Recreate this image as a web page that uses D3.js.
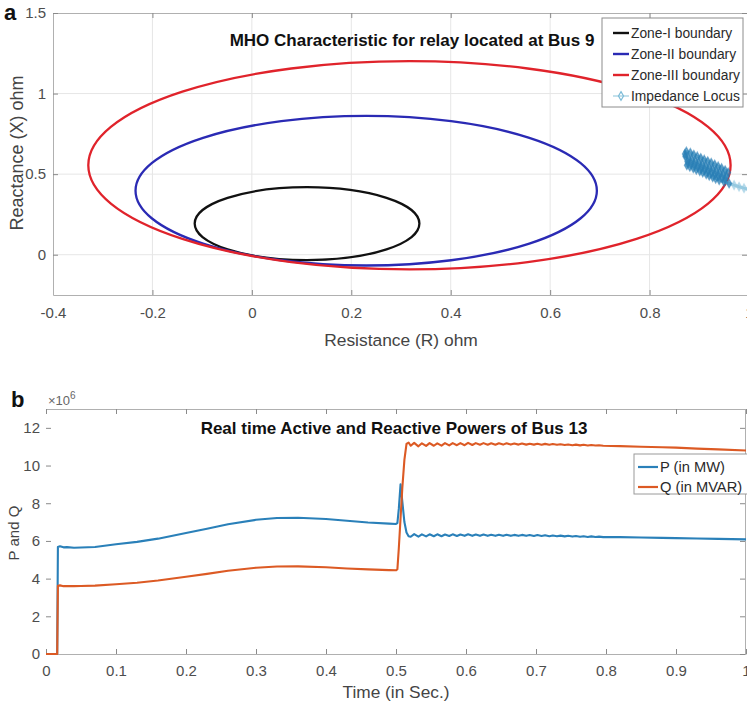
<!DOCTYPE html>
<html>
<head>
<meta charset="utf-8">
<script src="https://cdn.jsdelivr.net/npm/d3@7"></script>
<style>
    body { margin: 0; background: #fff; }
    svg { display: block; font-family: "Liberation Sans", Arial, sans-serif; }
</style>
</head>
<body>
<div id="chart"></div>
<script>
// ---------- panel a : MHO zones + impedance locus ----------
const zoneNames = ["Zone-I boundary", "Zone-II boundary", "Zone-III boundary"];
const zoneCenterR = [0.111, 0.230, 0.317];
const zoneCenterX = [0.193, 0.397, 0.555];
const zoneRadius = [0.226, 0.464, 0.646];
const zoneColors = ["#111111", "#2a2ab4", "#e0232b"];

// locus: tail on the right, then the dense band near R = 0.87..0.96
const locusR = [1.02, 1.01, 1.0, 0.99, 0.98, 0.97, 0.96, 0.95, 0.94,
    0.933, 0.927, 0.920, 0.914, 0.907, 0.901, 0.894, 0.888, 0.881, 0.875,
    0.876, 0.883, 0.890, 0.897, 0.904, 0.911, 0.918, 0.925, 0.932, 0.939, 0.946, 0.952,
    0.955, 0.948, 0.941, 0.934, 0.927, 0.920, 0.913, 0.906, 0.899, 0.892, 0.885, 0.878,
    0.872, 0.871, 0.874,
    0.882, 0.889, 0.896, 0.903, 0.910, 0.917, 0.924, 0.931, 0.938, 0.945, 0.952, 0.958];
const locusX = [0.385, 0.395, 0.405, 0.413, 0.422, 0.432, 0.442, 0.452, 0.463,
    0.472, 0.481, 0.491, 0.500, 0.510, 0.519, 0.528, 0.537, 0.546, 0.555,
    0.578, 0.568, 0.558, 0.548, 0.538, 0.528, 0.518, 0.507, 0.497, 0.487, 0.477, 0.468,
    0.487, 0.498, 0.509, 0.520, 0.530, 0.540, 0.550, 0.560, 0.570, 0.580, 0.590, 0.600,
    0.610, 0.625, 0.640,
    0.632, 0.620, 0.610, 0.600, 0.590, 0.580, 0.570, 0.559, 0.548, 0.537, 0.524, 0.510];

const rTicks = [-0.4, -0.2, 0, 0.2, 0.4, 0.6, 0.8, 1];
const rTickLabels = ["-0.4", "-0.2", "0", "0.2", "0.4", "0.6", "0.8", "1"];
const xTicks = [0, 0.5, 1, 1.5];
const xTickLabels = ["0", "0.5", "1", "1.5"];

// ---------- panel b : P and Q of bus 13 ----------
const timeSec = [0, 0.016, 0.017, 0.02, 0.025, 0.03, 0.04, 0.05, 0.07, 0.1,
    0.13, 0.16, 0.2, 0.23, 0.26, 0.3, 0.33, 0.36, 0.4, 0.43,
    0.46, 0.49, 0.5, 0.502, 0.504, 0.5065, 0.509, 0.512, 0.515, 0.518,
    0.521, 0.526, 0.532, 0.537, 0.543, 0.548, 0.554, 0.559, 0.565, 0.570,
    0.576, 0.581, 0.587, 0.592, 0.598, 0.603, 0.609, 0.614, 0.620, 0.625,
    0.631, 0.636, 0.642, 0.647, 0.653, 0.658, 0.664, 0.669, 0.675, 0.680,
    0.686, 0.691, 0.697, 0.702, 0.708, 0.713, 0.719, 0.724, 0.730, 0.735,
    0.741, 0.746, 0.752, 0.757, 0.763, 0.768, 0.774, 0.779, 0.785, 0.790,
    0.796, 0.82, 0.85, 0.88, 0.9, 0.93, 0.96, 1.0];
const activeP = [0, 0, 5.68, 5.72, 5.66, 5.67, 5.64, 5.65, 5.68, 5.82,
    5.95, 6.12, 6.42, 6.65, 6.88, 7.12, 7.22, 7.23, 7.16, 7.07,
    6.98, 6.92, 6.9, 6.95, 7.7, 9.0, 8.1, 7.0, 6.45, 6.25,
    6.22, 6.36, 6.23, 6.35, 6.24, 6.35, 6.25, 6.35, 6.25, 6.34,
    6.26, 6.35, 6.26, 6.34, 6.27, 6.35, 6.27, 6.34, 6.27, 6.34,
    6.27, 6.33, 6.27, 6.33, 6.27, 6.33, 6.27, 6.32, 6.27, 6.32,
    6.27, 6.31, 6.26, 6.31, 6.26, 6.30, 6.25, 6.29, 6.25, 6.28,
    6.24, 6.27, 6.23, 6.26, 6.22, 6.25, 6.21, 6.24, 6.21, 6.23,
    6.20, 6.2, 6.18, 6.16, 6.15, 6.13, 6.11, 6.08];
const reactiveQ = [0, 0, 3.62, 3.64, 3.6, 3.61, 3.6, 3.61, 3.63, 3.7,
    3.78, 3.9, 4.1, 4.25, 4.42, 4.58, 4.64, 4.65, 4.6, 4.54,
    4.49, 4.45, 4.44, 4.5, 5.6, 7.2, 8.8, 10.3, 11.15, 11.22,
    11.05, 11.2, 11.02, 11.18, 11.04, 11.19, 11.05, 11.18, 11.06, 11.19,
    11.07, 11.19, 11.08, 11.19, 11.08, 11.2, 11.09, 11.19, 11.1, 11.19,
    11.1, 11.18, 11.1, 11.18, 11.11, 11.18, 11.11, 11.17, 11.11, 11.17,
    11.11, 11.16, 11.11, 11.16, 11.1, 11.15, 11.1, 11.14, 11.1, 11.13,
    11.09, 11.12, 11.08, 11.11, 11.07, 11.1, 11.06, 11.09, 11.06, 11.08,
    11.05, 11.03, 11.0, 10.97, 10.95, 10.9, 10.86, 10.8];
const seriesNames = ["P (in MW)", "Q (in MVAR)"];
const seriesColors = ["#2a80b9", "#dc5a24"];

const tTicks = [0, 0.1, 0.2, 0.3, 0.4, 0.5, 0.6, 0.7, 0.8, 0.9, 1];
const tTickLabels = ["0", "0.1", "0.2", "0.3", "0.4", "0.5", "0.6", "0.7", "0.8", "0.9", "1"];
const pqTicks = [0, 2, 4, 6, 8, 10, 12];
const pqTickLabels = ["0", "2", "4", "6", "8", "10", "12"];

const W = 747, H = 704;
const tickColor = "#4d4d4d";

const svg = d3.select("#chart").append("svg")
    .attr("width", W)
    .attr("height", H);
svg.append("rect").attr("width", W).attr("height", H).attr("fill", "#fff");

// ================= panel a =================
const boxA = { left: 53, right: 749, top: 13, bottom: 295 };
const xA = d3.scaleLinear().domain([-0.4, 1.0]).range([boxA.left, boxA.right]);
const yA = d3.scaleLinear().domain([-0.25, 1.5]).range([boxA.bottom, boxA.top]);
const gA = svg.append("g");

// grid
gA.append("g").selectAll("line").data(rTicks.slice(1, -1)).join("line")
    .attr("x1", d => xA(d)).attr("x2", d => xA(d))
    .attr("y1", boxA.top).attr("y2", boxA.bottom)
    .attr("stroke", "#e6e6e6").attr("stroke-width", 1);
gA.append("g").selectAll("line").data(xTicks.slice(0, -1)).join("line")
    .attr("x1", boxA.left).attr("x2", boxA.right)
    .attr("y1", d => yA(d)).attr("y2", d => yA(d))
    .attr("stroke", "#e6e6e6").attr("stroke-width", 1);

function styleAxis(g, hideText) {
    g.select(".domain").attr("stroke", "#b0b0b0");
    g.selectAll(".tick line").attr("stroke", "#8a8a8a");
    g.selectAll(".tick text")
        .attr("fill", tickColor)
        .style("font-size", "15px")
        .style("font-family", "'Liberation Sans', Arial, sans-serif");
    if (hideText) g.selectAll(".tick text").remove();
}

gA.append("g").attr("transform", `translate(0,${boxA.bottom})`)
    .call(d3.axisBottom(xA).tickValues(rTicks)
        .tickFormat((d, i) => rTickLabels[i]).tickSizeInner(-5).tickSizeOuter(0).tickPadding(12))
    .call(g => styleAxis(g, false));
gA.append("g").attr("transform", `translate(0,${boxA.top})`)
    .call(d3.axisTop(xA).tickValues(rTicks).tickSizeInner(-5).tickSizeOuter(0))
    .call(g => styleAxis(g, true));
gA.append("g").attr("transform", `translate(${boxA.left},0)`)
    .call(d3.axisLeft(yA).tickValues(xTicks)
        .tickFormat((d, i) => xTickLabels[i]).tickSizeInner(-5).tickSizeOuter(0).tickPadding(7))
    .call(g => styleAxis(g, false));
gA.append("g").attr("transform", `translate(${boxA.right - 2},0)`)
    .call(d3.axisRight(yA).tickValues(xTicks).tickSizeInner(-5).tickSizeOuter(0))
    .call(g => styleAxis(g, true));

// zone circles
const zones = zoneNames.map((name, i) => ({
    name, cR: zoneCenterR[i], cX: zoneCenterX[i], r: zoneRadius[i], color: zoneColors[i]
}));
gA.append("g").selectAll("ellipse").data(zones).join("ellipse")
    .attr("cx", d => xA(d.cR))
    .attr("cy", d => yA(d.cX))
    .attr("rx", d => xA(d.cR + d.r) - xA(d.cR))
    .attr("ry", d => yA(d.cX) - yA(d.cX + d.r))
    .attr("fill", "none")
    .attr("stroke", d => d.color)
    .attr("stroke-width", 2.3);

// impedance locus
const locus = locusR.map((r, i) => [r, locusX[i]]);
gA.append("path")
    .attr("d", d3.line().x(d => xA(d[0])).y(d => yA(d[1]))(locus))
    .attr("fill", "none")
    .attr("stroke", "#8cc4dc")
    .attr("stroke-width", 3)
    .attr("stroke-linejoin", "round");
const diamond = d3.symbol().type(d3.symbolDiamond).size(20);
gA.append("g").selectAll("path").data(locus).join("path")
    .attr("transform", d => `translate(${xA(d[0])},${yA(d[1])})`)
    .attr("d", diamond)
    .attr("fill", d => d[0] > 0.962 ? "#9dcde2" : "#2a7fb5")
    .attr("fill-opacity", 0.6)
    .attr("stroke", d => d[0] > 0.962 ? "#9dcde2" : "#2a7fb5")
    .attr("stroke-opacity", 0.6)
    .attr("stroke-width", 1.4);

// title + labels
gA.append("text")
    .attr("x", 412).attr("y", 46)
    .attr("text-anchor", "middle")
    .style("font-size", "17px").style("font-weight", "bold")
    .attr("fill", "#111")
    .text("MHO Characteristic for relay located at Bus 9");
gA.append("text")
    .attr("x", 401).attr("y", 346)
    .attr("text-anchor", "middle")
    .style("font-size", "17.4px")
    .attr("fill", "#444")
    .text("Resistance (R) ohm");
gA.append("text")
    .attr("transform", "translate(17,153) rotate(-90)")
    .attr("text-anchor", "middle")
    .attr("dy", "0.35em")
    .style("font-size", "18px")
    .attr("fill", "#444")
    .text("Reactance (X) ohm");
svg.append("text")
    .attr("x", 4).attr("y", 20)
    .style("font-size", "22px").style("font-weight", "bold")
    .attr("fill", "#111")
    .text("a");

// legend a
const legA = gA.append("g").attr("transform", "translate(602,18)");
legA.append("rect")
    .attr("width", 141).attr("height", 89)
    .attr("fill", "#fff").attr("stroke", "#8c8c8c").attr("stroke-width", 1);
const legAItems = zones.map(z => ({ name: z.name, color: z.color, marker: false }))
    .concat([{ name: "Impedance Locus", color: "#9ccde0", marker: true }]);
legAItems.forEach((d, i) => {
    const y = 15 + i * 21;
    legA.append("line")
        .attr("x1", 11).attr("x2", 27).attr("y1", y).attr("y2", y)
        .attr("stroke", d.color).attr("stroke-width", d.marker ? 1.2 : 2.4);
    if (d.marker) {
        legA.append("path")
            .attr("transform", `translate(19,${y})`)
            .attr("d", d3.symbol().type(d3.symbolDiamond).size(22))
            .attr("fill", "none").attr("stroke", "#7dbcd8").attr("stroke-width", 1.2);
    }
    legA.append("text")
        .attr("x", 29).attr("y", y).attr("dy", "0.35em")
        .style("font-size", "13.8px")
        .attr("fill", "#2a2a2a")
        .text(d.name);
});

// ================= panel b =================
const boxB = { left: 46, right: 746, top: 409, bottom: 654 };
const xB = d3.scaleLinear().domain([0, 1]).range([boxB.left, boxB.right]);
const yB = d3.scaleLinear().domain([0, 13]).range([boxB.bottom, boxB.top]);
const gB = svg.append("g");

gB.append("g").attr("transform", `translate(0,${boxB.bottom})`)
    .call(d3.axisBottom(xB).tickValues(tTicks)
        .tickFormat((d, i) => tTickLabels[i]).tickSizeInner(-5).tickSizeOuter(0).tickPadding(11))
    .call(g => styleAxis(g, false));
gB.append("g").attr("transform", `translate(0,${boxB.top})`)
    .call(d3.axisTop(xB).tickValues(tTicks).tickSizeInner(-5).tickSizeOuter(0))
    .call(g => styleAxis(g, true));
gB.append("g").attr("transform", `translate(${boxB.left},0)`)
    .call(d3.axisLeft(yB).tickValues(pqTicks)
        .tickFormat((d, i) => pqTickLabels[i]).tickSizeInner(-5).tickSizeOuter(0).tickPadding(6))
    .call(g => styleAxis(g, false))
    .call(g => g.select(".domain").remove());
gB.append("g").attr("transform", `translate(${boxB.right - 1},0)`)
    .call(d3.axisRight(yB).tickValues(pqTicks).tickSizeInner(-5).tickSizeOuter(0))
    .call(g => styleAxis(g, true));

const lineB = d3.line().x(d => xB(d[0])).y(d => yB(d[1]));
[activeP, reactiveQ].forEach((vals, s) => {
    gB.append("path")
        .attr("d", lineB(timeSec.map((t, i) => [t, vals[i]])))
        .attr("fill", "none")
        .attr("stroke", seriesColors[s])
        .attr("stroke-width", 2.1)
        .attr("stroke-linejoin", "round");
});

gB.append("text")
    .attr("x", 394).attr("y", 434)
    .attr("text-anchor", "middle")
    .style("font-size", "17px").style("font-weight", "bold")
    .attr("fill", "#111")
    .text("Real time Active and Reactive Powers of Bus 13");
gB.append("text")
    .attr("x", 396).attr("y", 698)
    .attr("text-anchor", "middle")
    .style("font-size", "17.3px")
    .attr("fill", "#444")
    .text("Time (in Sec.)");
gB.append("text")
    .attr("transform", "translate(14,533) rotate(-90)")
    .attr("text-anchor", "middle")
    .attr("dy", "0.35em")
    .style("font-size", "15px")
    .attr("fill", "#444")
    .text("P and Q");
const expo = gB.append("text")
    .attr("x", 48).attr("y", 405)
    .style("font-size", "13px")
    .attr("fill", "#666");
expo.append("tspan").text("\u00d710");
expo.append("tspan").attr("dy", -6).style("font-size", "10px").text("6");
svg.append("text")
    .attr("x", 11).attr("y", 407)
    .style("font-size", "22px").style("font-weight", "bold")
    .attr("fill", "#111")
    .text("b");

// legend b
const legB = gB.append("g").attr("transform", "translate(634,454)");
legB.append("rect")
    .attr("width", 130).attr("height", 40)
    .attr("fill", "#fff").attr("stroke", "#9a9a9a").attr("stroke-width", 1);
seriesNames.forEach((name, i) => {
    const y = 13 + i * 20;
    legB.append("line")
        .attr("x1", 4).attr("x2", 24).attr("y1", y).attr("y2", y)
        .attr("stroke", seriesColors[i]).attr("stroke-width", 2.2);
    legB.append("text")
        .attr("x", 26).attr("y", y).attr("dy", "0.35em")
        .style("font-size", "14.7px")
        .attr("fill", "#2a2a2a")
        .text(name);
});
</script>
</body>
</html>
